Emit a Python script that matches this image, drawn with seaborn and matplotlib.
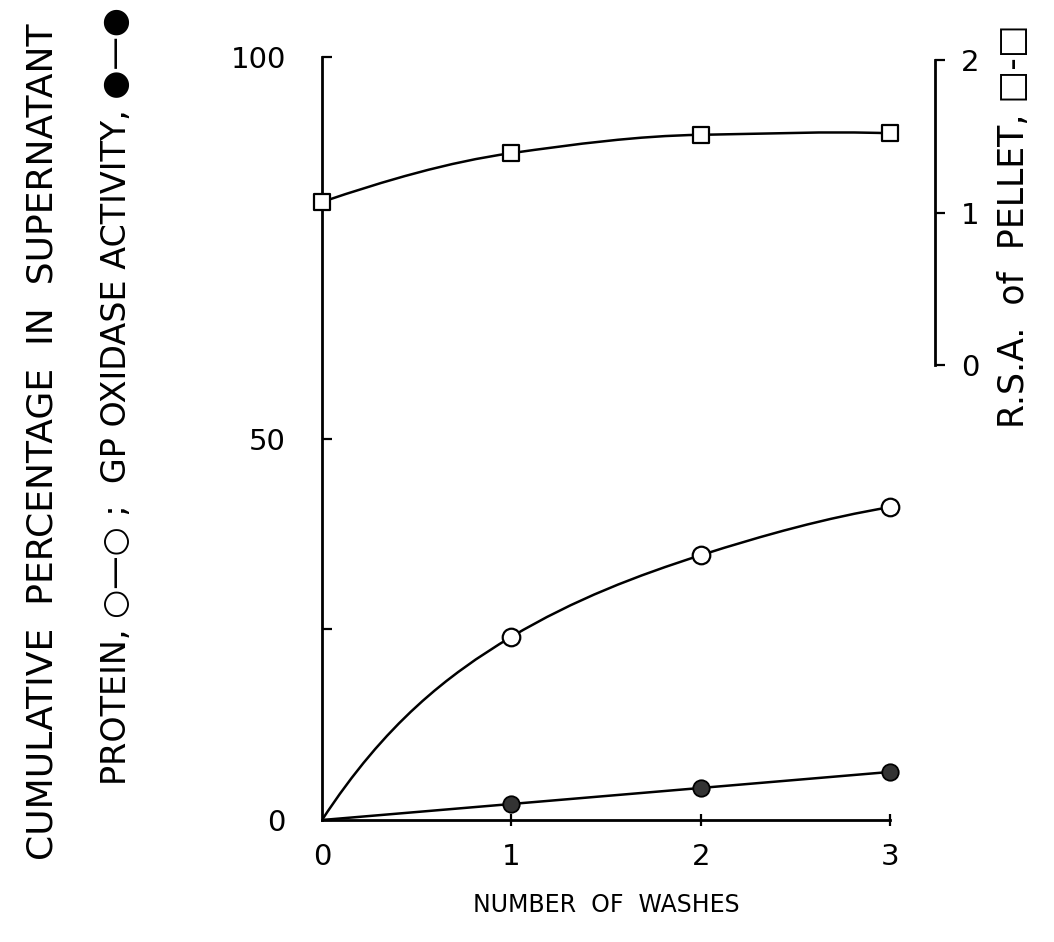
import numpy as np
import pandas as pd
import matplotlib
matplotlib.use("Agg")
import matplotlib.pyplot as plt
from matplotlib.path import Path
from matplotlib.patches import PathPatch
import seaborn as sns

# values
washes = [0, 1, 2, 3]
protein = [0.0, 24.0, 34.7, 41.0]        # cumulative % protein in supernatant
gp_oxidase = [0.0, 2.1, 4.2, 6.3]        # cumulative % GP oxidase activity
rsa_pellet = [1.07, 1.39, 1.51, 1.52]    # relative specific activity of pellet

x_ticks = [0, 1, 2, 3]
left_ticks = [0, 50, 100]
right_ticks = [0, 1, 2]

sns.set_theme(style="white")
plt.rcParams["font.family"] = ["DejaVu Sans"]
for key in ["text.color", "axes.labelcolor", "xtick.color", "ytick.color"]:
    plt.rcParams[key] = "black"


def pchip_slopes(x, y):
    x = np.asarray(x, float)
    y = np.asarray(y, float)
    h = np.diff(x)
    d = np.diff(y) / h
    m = np.zeros_like(y)
    for k in range(1, len(x) - 1):
        if d[k - 1] * d[k] > 0:
            w1 = 2 * h[k] + h[k - 1]
            w2 = h[k] + 2 * h[k - 1]
            m[k] = (w1 + w2) / (w1 / d[k - 1] + w2 / d[k])
    m[0] = ((2 * h[0] + h[1]) * d[0] - h[0] * d[1]) / (h[0] + h[1])
    m[-1] = ((2 * h[-1] + h[-2]) * d[-1] - h[-1] * d[-2]) / (h[-1] + h[-2])
    return m


def smooth_curve(ax, x, y, start_slope=None, **kw):
    # hand-drawn looking curve through the points (cubic bezier segments)
    m = pchip_slopes(x, y)
    if start_slope is not None:
        m[0] = start_slope
    verts = [(x[0], y[0])]
    codes = [Path.MOVETO]
    for k in range(len(x) - 1):
        h = x[k + 1] - x[k]
        verts += [(x[k] + h / 3, y[k] + m[k] * h / 3),
                  (x[k + 1] - h / 3, y[k + 1] - m[k + 1] * h / 3),
                  (x[k + 1], y[k + 1])]
        codes += [Path.CURVE4] * 3
    ax.add_patch(PathPatch(Path(verts, codes), fill=False, **kw))


df = pd.DataFrame({"wash": washes, "protein": protein,
                   "gp": gp_oxidase, "rsa": rsa_pellet})

fig = plt.figure(figsize=(10.54, 9.42), dpi=100)
ax = fig.add_axes([0.3055, 0.1295, 0.5389, 0.810])
ax.set_xlim(0, 3)
ax.set_ylim(0, 100)

lw = 1.8
smooth_curve(ax, washes, protein, start_slope=38, edgecolor="black", lw=lw, zorder=2)
smooth_curve(ax, washes, gp_oxidase, edgecolor="black", lw=lw, zorder=2)

pts = df[df["wash"] > 0]
sns.scatterplot(data=pts, x="wash", y="protein", ax=ax, marker="o", s=160,
                facecolor="white", edgecolor="black", linewidth=1.6, zorder=3,
                clip_on=False)
sns.scatterplot(data=pts, x="wash", y="gp", ax=ax, marker="o", s=140,
                color="#333333", edgecolor="black", linewidth=1.3, zorder=3,
                clip_on=False)

ax.set_xticks(x_ticks)
ax.set_xticklabels([str(t) for t in x_ticks])
ax.set_yticks(left_ticks)
ax.set_yticklabels([str(t) for t in left_ticks])
ax.set_yticks([25], minor=True)
ax.tick_params(axis="y", which="both", direction="in", length=7, width=1.6,
               pad=26, left=True, labelsize=21)
ax.tick_params(axis="x", direction="inout", length=9, width=1.6, pad=12,
               bottom=True, labelsize=21)
ax.xaxis.get_major_ticks()[0].tick1line.set_visible(False)
ax.set_xlabel("NUMBER  OF  WASHES", fontsize=17, labelpad=16)
ax.set_ylabel("")
for s in ["top", "right"]:
    ax.spines[s].set_visible(False)
for s in ["left", "bottom"]:
    ax.spines[s].set_linewidth(2)
    ax.spines[s].set_color("black")

# right hand axis for RSA, floating beside the plot
ax2 = ax.twinx()
ax2.set_ylim(-2.98, 2.02)
smooth_curve(ax2, washes, rsa_pellet, edgecolor="black", lw=lw, zorder=2)
sns.scatterplot(data=df, x="wash", y="rsa", ax=ax2, marker="s", s=130,
                facecolor="white", edgecolor="black", linewidth=1.6, zorder=3,
                clip_on=False)
ax2.set_ylabel("")
ax2.set_yticks(right_ticks)
ax2.set_yticklabels([str(t) for t in right_ticks])
ax2.tick_params(axis="y", direction="out", length=7, width=1.6, pad=12,
                right=True, labelsize=21)
for s in ["top", "left", "bottom"]:
    ax2.spines[s].set_visible(False)
ax2.spines["right"].set_position(("axes", 1.079))
ax2.spines["right"].set_bounds(0, 2)
ax2.spines["right"].set_linewidth(2)
ax2.spines["right"].set_color("black")

fig.text(0.040, 0.531, "CUMULATIVE  PERCENTAGE  IN  SUPERNATANT",
         rotation=90, ha="center", va="center", fontsize=26)
fig.text(0.110, 0.580, "PROTEIN, \u25cb\u2014\u25cb ;  GP OXIDASE ACTIVITY, \u25cf\u2014\u25cf",
         rotation=90, ha="center", va="center", fontsize=24)
fig.text(0.962, 0.760, "R.S.A.  of  PELLET, \u25a1-\u25a1",
         rotation=90, ha="center", va="center", fontsize=25)

fig.savefig("out.png", dpi=100, facecolor="white")
